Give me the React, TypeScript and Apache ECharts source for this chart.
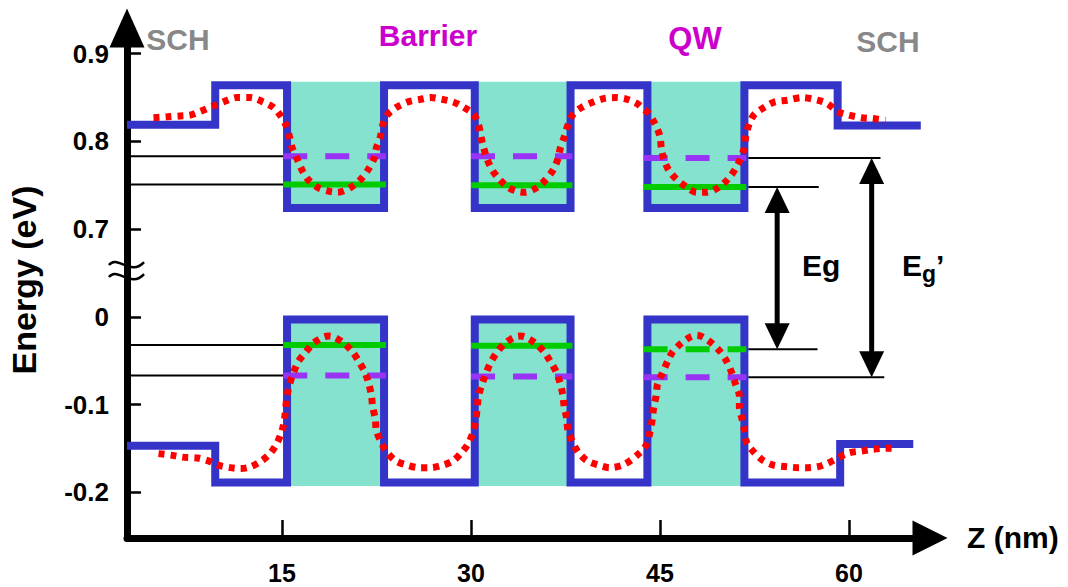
import React, { useEffect, useRef } from "react";
import * as echarts from "echarts";

// ---------------- data (z in nm, energy in eV) ----------------
const zTickValues = [15, 30, 45, 60];
const energyTickValues = [0.9, 0.8, 0.7, 0, -0.1, -0.2];

const structureStart = 2.7;
const cbStructureEnd = 65.7;
const vbStructureEnd = 65.1;
const schStepLeft = 9.7;
const cbSchStepRight = 59.1;
const vbSchStepRight = 59.3;
const wellStarts = [15.4, 30.3, 44.0];
const wellEnds = [23.1, 37.9, 51.7];

const cbSchLeft = 0.819;
const cbSchRight = 0.818;
const cbBarrier = 0.864;
const cbWell = 0.724;
const vbSchLeft = -0.147;
const vbSchRight = -0.145;
const vbBarrier = -0.189;
const vbWell = -0.003;

const electronLevel = [0.751, 0.75, 0.748]; // green
const electronLevel2 = [0.783, 0.783, 0.781]; // purple dashed
const holeLevel = [-0.032, -0.033, -0.037]; // green
const holeLevel2 = [-0.067, -0.068, -0.069]; // purple dashed

const egGuideEnds = [57.6, 57.5]; // top, bottom
const egPrimeGuideEnds = [62.5, 62.8];
const egArrowZ = 54.3;
const egPrimeArrowZ = 61.8;

const cbWave = [
  [4.8, 0.827], [5.9, 0.828], [6.9, 0.829], [7.7, 0.83], [8.5, 0.834], [9.5, 0.84],
  [10.5, 0.846], [11.4, 0.85], [12.5, 0.85], [13.5, 0.845], [14.3, 0.839], [14.8, 0.831],
  [15.3, 0.819], [15.6, 0.805], [15.8, 0.793], [16.2, 0.78], [16.6, 0.767], [17.1, 0.756],
  [17.9, 0.747], [18.8, 0.743], [19.4, 0.742], [20.4, 0.747], [21.2, 0.756], [21.8, 0.767],
  [22.3, 0.78], [22.5, 0.793], [22.8, 0.805], [23.0, 0.819], [23.4, 0.831], [24.1, 0.839],
  [25.0, 0.845], [26.0, 0.848], [26.8, 0.85], [27.7, 0.848], [28.6, 0.845], [29.4, 0.839],
  [30.2, 0.831], [30.6, 0.819], [30.8, 0.805], [31.0, 0.793], [31.3, 0.779], [31.7, 0.767],
  [32.3, 0.756], [33.0, 0.747], [33.7, 0.743], [34.3, 0.742], [35.2, 0.747], [35.9, 0.756],
  [36.5, 0.767], [36.9, 0.78], [37.1, 0.793], [37.4, 0.805], [37.7, 0.819], [38.1, 0.831],
  [38.8, 0.839], [39.7, 0.845], [40.6, 0.849], [41.5, 0.85], [42.4, 0.848], [43.2, 0.843],
  [43.6, 0.838], [44.1, 0.832], [44.6, 0.82], [45.0, 0.806], [45.1, 0.793], [45.3, 0.78],
  [45.7, 0.767], [46.3, 0.757], [47.1, 0.748], [47.9, 0.742], [48.7, 0.742], [49.6, 0.747],
  [50.4, 0.757], [51.0, 0.769], [51.4, 0.781], [51.7, 0.793], [51.8, 0.805], [52.1, 0.821],
  [52.5, 0.831], [53.3, 0.839], [54.1, 0.845], [55.1, 0.847], [56.3, 0.85], [57.5, 0.847],
  [58.3, 0.843], [59.1, 0.834], [60.0, 0.83], [61.0, 0.827], [61.9, 0.826], [62.9, 0.824],
];

const vbWave = [
  [5.2, -0.156], [6.3, -0.158], [7.1, -0.16], [8.3, -0.161], [9.1, -0.164], [9.9, -0.169],
  [10.9, -0.172], [11.7, -0.173], [12.5, -0.171], [13.4, -0.164], [14.1, -0.155], [14.6, -0.144],
  [15.0, -0.13], [15.2, -0.116], [15.3, -0.103], [15.4, -0.09], [15.6, -0.077], [15.9, -0.064],
  [16.3, -0.051], [16.9, -0.04], [17.5, -0.03], [18.3, -0.023], [18.7, -0.022], [19.1, -0.023],
  [19.9, -0.03], [20.6, -0.04], [21.1, -0.051], [21.6, -0.064], [21.9, -0.077], [22.1, -0.09],
  [22.2, -0.103], [22.4, -0.116], [22.5, -0.13], [22.9, -0.144], [23.3, -0.154], [24.0, -0.164],
  [24.9, -0.169], [25.9, -0.172], [26.8, -0.172], [27.8, -0.169], [28.6, -0.164], [29.3, -0.154],
  [29.8, -0.144], [30.2, -0.13], [30.4, -0.116], [30.5, -0.103], [30.6, -0.09], [30.9, -0.076],
  [31.2, -0.064], [31.6, -0.051], [32.1, -0.04], [32.7, -0.03], [33.5, -0.023], [33.9, -0.022],
  [34.3, -0.023], [35.1, -0.03], [35.8, -0.04], [36.3, -0.051], [36.8, -0.064], [37.1, -0.077],
  [37.3, -0.09], [37.4, -0.103], [37.6, -0.116], [37.7, -0.13], [38.1, -0.144], [38.5, -0.154],
  [39.2, -0.164], [40.1, -0.169], [41.0, -0.172], [42.2, -0.168], [43.4, -0.155], [44.0, -0.144],
  [44.2, -0.131], [44.4, -0.116], [44.5, -0.103], [44.7, -0.09], [44.8, -0.077], [45.2, -0.064],
  [45.6, -0.051], [46.0, -0.04], [46.7, -0.03], [47.4, -0.023], [47.9, -0.021], [48.4, -0.023],
  [49.1, -0.03], [49.8, -0.04], [50.3, -0.051], [50.7, -0.064], [51.0, -0.077], [51.3, -0.09],
  [51.3, -0.103], [51.5, -0.116], [51.7, -0.13], [51.9, -0.144], [52.5, -0.155], [53.2, -0.164],
  [54.0, -0.169], [55.1, -0.171], [56.0, -0.172], [56.7, -0.172], [57.5, -0.171], [58.3, -0.167],
  [59.1, -0.161], [60.0, -0.155], [61.0, -0.153], [61.9, -0.151], [62.9, -0.15], [63.7, -0.15],
];

// ---------------- axis break mapping ----------------
const BREAK_SHIFT = 0.6; // lower band energies are shifted up by this on the drawing axis
const toD = (e: number) => (e >= 0.35 ? e : e + BREAK_SHIFT);
const fromD = (d: number) => (d >= 0.65 ? d : d - BREAK_SHIFT);
const toPts = (arr: number[][]) => arr.map(([z, e]) => [z, toD(e)]);

// ---------------- layout / style ----------------
const X_MIN = 2.698;
const X_MAX = 66.43;
const Y_MIN = 0.3478;
const Y_MAX = 0.9293;
const FONT = "'Liberation Sans', Arial, Helvetica, sans-serif";
const BLUE = "#3434c8";
const TEAL = "#84e2cf";
const GREEN = "#00cc00";
const PURPLE = "#9933f5";
const RED = "#ff0000";

function bandPath(schL: number, schR: number, barrier: number, well: number, stepR: number, end: number) {
  const p: number[][] = [[structureStart, schL], [schStepLeft, schL], [schStepLeft, barrier]];
  wellStarts.forEach((ws, i) => {
    p.push([ws, barrier], [ws, well], [wellEnds[i], well], [wellEnds[i], barrier]);
  });
  p.push([stepR, barrier], [stepR, schR], [end, schR]);
  return p;
}

function seg(data: number[][], color: string, width: number, type: any, z: number, extra: any = {}) {
  return {
    type: "line",
    data: toPts(data),
    showSymbol: false,
    symbol: "none",
    silent: true,
    z,
    lineStyle: { color, width, type, cap: "butt", join: "miter" },
    emphasis: { disabled: true },
    ...extra,
  };
}

function buildOption() {
  const series: any[] = [];

  // well fills
  const fillRows = wellStarts.flatMap((ws, i) => [
    [ws, wellEnds[i], toD(cbWell), toD(cbBarrier), 1],
    [ws, wellEnds[i], toD(vbBarrier), toD(vbWell), -1],
  ]);
  series.push({
    type: "custom",
    data: fillRows,
    z: 1,
    silent: true,
    clip: false,
    renderItem: (_p: any, api: any) => {
      const a = api.coord([api.value(0), api.value(3)]);
      const b = api.coord([api.value(1), api.value(2)]);
      let y0 = a[1];
      let y1 = b[1];
      if (api.value(4) > 0) y0 -= 3.5;
      else y1 += 3.5;
      return {
        type: "rect",
        shape: { x: a[0], y: y0, width: b[0] - a[0], height: y1 - y0 },
        style: { fill: TEAL },
      };
    },
  });

  // thin guide lines
  const guides: number[][][] = [
    [[structureStart, electronLevel2[0]], [wellStarts[0] - 0.3, electronLevel2[0]]],
    [[structureStart, electronLevel[0]], [wellStarts[0] - 0.3, electronLevel[0]]],
    [[structureStart, holeLevel[0]], [wellStarts[0] - 0.3, holeLevel[0]]],
    [[structureStart, holeLevel2[0]], [wellStarts[0] - 0.3, holeLevel2[0]]],
    [[wellEnds[2] + 0.3, electronLevel2[2]], [egPrimeGuideEnds[0], electronLevel2[2]]],
    [[wellEnds[2] + 0.3, electronLevel[2]], [egGuideEnds[0], electronLevel[2]]],
    [[wellEnds[2] + 0.3, holeLevel[2]], [egGuideEnds[1], holeLevel[2]]],
    [[wellEnds[2] + 0.3, holeLevel2[2]], [egPrimeGuideEnds[1], holeLevel2[2]]],
  ];
  guides.forEach((g) => series.push(seg(g, "#000", 2, "solid", 2)));

  // band edges
  series.push(seg(bandPath(cbSchLeft, cbSchRight, cbBarrier, cbWell, cbSchStepRight, cbStructureEnd), BLUE, 8, "solid", 3));
  series.push(seg(bandPath(vbSchLeft, vbSchRight, vbBarrier, vbWell, vbSchStepRight, vbStructureEnd), BLUE, 8, "solid", 3));

  // confined levels
  wellStarts.forEach((ws, i) => {
    const a = ws - 0.3;
    const b = wellEnds[i] + 0.15;
    series.push(seg([[a, electronLevel2[i]], [b, electronLevel2[i]]], PURPLE, 6, [24, 18], 4));
    series.push(seg([[a, electronLevel[i]], [b, electronLevel[i]]], GREEN, 6, "solid", 4));
    series.push(seg([[a, holeLevel[i]], [b, holeLevel[i]]], GREEN, 6, i === 2 ? [24, 18] : "solid", 4));
    series.push(seg([[a, holeLevel2[i]], [b, holeLevel2[i]]], PURPLE, 6, [24, 18], 4));
  });

  // wavefunctions
  series.push(seg(cbWave, RED, 7, [6, 6], 5, { smooth: 0.3 }));
  series.push(seg(vbWave, RED, 7, [6, 6], 5, { smooth: 0.3 }));

  // Eg / Eg' arrows
  const arrowRows = [
    [egArrowZ, toD(electronLevel[2]), toD(holeLevel[2])],
    [egPrimeArrowZ, toD(electronLevel2[2]), toD(holeLevel2[2])],
  ];
  series.push({
    type: "custom",
    data: arrowRows,
    z: 6,
    silent: true,
    clip: false,
    renderItem: (_p: any, api: any) => {
      const t = api.coord([api.value(0), api.value(1)]);
      const b = api.coord([api.value(0), api.value(2)]);
      const w = 25;
      const h = 26;
      return {
        type: "group",
        children: [
          { type: "line", shape: { x1: t[0], y1: t[1] + h - 2, x2: b[0], y2: b[1] - h + 2 }, style: { stroke: "#000", lineWidth: 5 } },
          { type: "polygon", shape: { points: [[t[0], t[1]], [t[0] - w / 2, t[1] + h], [t[0] + w / 2, t[1] + h]] }, style: { fill: "#000" } },
          { type: "polygon", shape: { points: [[b[0], b[1]], [b[0] - w / 2, b[1] - h], [b[0] + w / 2, b[1] - h]] }, style: { fill: "#000" } },
        ],
      };
    },
  });

  // axis break mark
  series.push({
    type: "custom",
    data: [[X_MIN, 0.651]],
    z: 6,
    silent: true,
    clip: false,
    renderItem: (_p: any, api: any) => {
      const p = api.coord([api.value(0), api.value(1)]);
      const mk = (dy: number) => ({
        type: "bezierCurve",
        shape: {
          x1: p[0] - 18, y1: p[1] - 3 + dy,
          cpx1: p[0] - 10, cpy1: p[1] - 14 + dy,
          cpx2: p[0] + 4, cpy2: p[1] + 9 + dy,
          x2: p[0] + 17, y2: p[1] - 6 + dy,
        },
        style: { stroke: "#000", lineWidth: 2.5, fill: null },
      });
      return { type: "group", children: [mk(-4), mk(8)] };
    },
  });

  const txt = (text: string, x: number, y: number, size: number, color: string, align = "center", extra: any = {}) => ({
    type: "text",
    x,
    y,
    silent: true,
    z: 10,
    ...extra,
    style: {
      text,
      fill: color,
      fontSize: size,
      fontWeight: "bold",
      fontFamily: FONT,
      align,
      verticalAlign: "middle",
    },
  });

  return {
    animation: false,
    backgroundColor: "#ffffff",
    grid: { left: 127, right: 138, top: 28, bottom: 49, containLabel: false, outerBoundsMode: "none" },
    xAxis: {
      type: "value",
      min: X_MIN,
      max: X_MAX,
      axisLine: {
        show: true,
        onZero: false,
        symbol: ["none", "triangle"],
        symbolSize: [35, 35],
        lineStyle: { color: "#000", width: 7 },
      },
      axisTick: { show: true, inside: true, length: 18, lineStyle: { color: "#000", width: 2.5 }, customValues: zTickValues },
      axisLabel: { show: true, customValues: zTickValues, margin: 22, color: "#000", fontSize: 25, fontWeight: "bold", fontFamily: FONT },
      splitLine: { show: false },
    },
    yAxis: {
      type: "value",
      min: Y_MIN,
      max: Y_MAX,
      axisLine: {
        show: true,
        onZero: false,
        symbol: ["none", "triangle"],
        symbolSize: [35, 39],
        lineStyle: { color: "#000", width: 7 },
      },
      axisTick: { show: true, inside: true, length: 14, lineStyle: { color: "#000", width: 2.5 }, customValues: energyTickValues.map(toD) },
      axisLabel: {
        show: true,
        customValues: energyTickValues.map(toD),
        margin: 18,
        color: "#000",
        fontSize: 26,
        fontWeight: "bold",
        fontFamily: FONT,
        formatter: (v: number) => String(Number(fromD(v).toFixed(1)) || 0),
      },
      splitLine: { show: false },
    },
    series,
    graphic: [
      txt("SCH", 178, 39, 30, "#888888"),
      txt("Barrier", 428, 35, 30, "#cc00cc"),
      txt("QW", 695, 38, 31, "#cc00cc"),
      txt("SCH", 888, 41, 30, "#888888"),
      txt("Energy (eV)", 24, 280, 34, "#000", "center", { rotation: Math.PI / 2 }),
      txt("Z (nm)", 967, 537, 30, "#000", "left"),
      txt("Eg", 802, 265, 30, "#000", "left"),
      txt("E", 902, 265, 30, "#000", "left"),
      txt("g", 922, 274, 23, "#000", "left"),
      txt("\u2019", 936, 265, 30, "#000", "left"),
    ],
  };
}

export default function App() {
  const ref = useRef<HTMLDivElement>(null);
  useEffect(() => {
    if (!ref.current) return;
    const chart = echarts.init(ref.current, null, { renderer: "svg" });
    chart.setOption(buildOption() as any);
    return () => chart.dispose();
  }, []);
  return (
    <div
      ref={ref}
      style={{ position: "absolute", left: 0, top: 0, width: 1068, height: 587, background: "#fff" }}
    />
  );
}
